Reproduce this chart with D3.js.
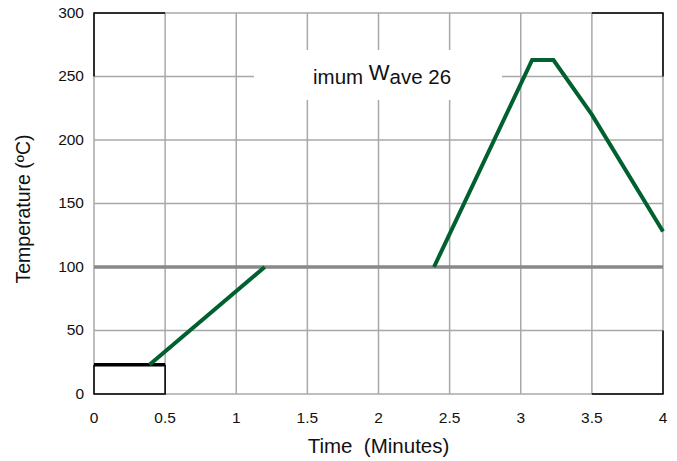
<!DOCTYPE html>
<html>
<head>
<meta charset="utf-8">
<script src="https://cdn.jsdelivr.net/npm/d3@7"></script>
<style>
body { margin: 0; background: #fff; }
svg { font-family: "Liberation Sans", Arial, sans-serif; }
</style>
</head>
<body>
<svg id="chart" width="677" height="461"></svg>
<script>
// profile data (minutes, degC)
var rampTime = [0.39, 1.2];
var rampTemp = [23, 100];
var waveTime = [2.39, 3.08, 3.23, 3.5, 4];
var waveTemp = [100, 263, 263, 220, 128];
var preheatTime = [0, 0.5];
var preheatTemp = [23, 23];
var refLevel = 100;
var xTicks = [0, 0.5, 1, 1.5, 2, 2.5, 3, 3.5, 4];
var yTicks = [0, 50, 100, 150, 200, 250, 300];

var svg = d3.select('#chart');
var margin = { left: 94, right: 14, top: 13, bottom: 67 };
var w = 677 - margin.left - margin.right,
    h = 461 - margin.top - margin.bottom;

var x = d3.scaleLinear().domain([0, 4]).range([0, w]);
var y = d3.scaleLinear().domain([0, 300]).range([h, 0]);

var g = svg.append('g').attr('transform', 'translate(' + margin.left + ',' + margin.top + ')');

// grid
g.selectAll('.vgrid').data(xTicks).enter().append('line')
    .attr('x1', d => x(d)).attr('x2', d => x(d))
    .attr('y1', 0).attr('y2', h)
    .attr('stroke', '#a8a8a8').attr('stroke-width', 1.5);
g.selectAll('.hgrid').data(yTicks).enter().append('line')
    .attr('x1', 0).attr('x2', w)
    .attr('y1', d => y(d)).attr('y2', d => y(d))
    .attr('stroke', '#a8a8a8').attr('stroke-width', 1.5);

// black frame corners
var corners = [
    [[0, 250], [0, 300], [0.5, 300]],
    [[3.5, 300], [4, 300], [4, 250]],
    [[3.5, 0], [4, 0], [4, 50]],
    [[0, 23], [0, 0], [0.5, 0], [0.5, 23]]
];
var line = d3.line().x(d => x(d[0])).y(d => y(d[1]));
g.selectAll('.corner').data(corners).enter().append('path')
    .attr('d', line).attr('fill', 'none')
    .attr('stroke', '#000').attr('stroke-width', 1.5);

// label box
g.append('rect').attr('x', 160).attr('y', 37).attr('width', 248).attr('height', 50)
    .attr('fill', '#fff');

// 100 degree reference
g.append('line')
    .attr('x1', 0).attr('x2', w)
    .attr('y1', y(refLevel)).attr('y2', y(refLevel))
    .attr('stroke', '#888').attr('stroke-width', 3.5);

// preheat bar
g.append('path')
    .datum(d3.zip(preheatTime, preheatTemp))
    .attr('d', line).attr('fill', 'none')
    .attr('stroke', '#000').attr('stroke-width', 3.5);

// profile segments
[d3.zip(rampTime, rampTemp), d3.zip(waveTime, waveTemp)].forEach(function(seg) {
    g.append('path').datum(seg)
        .attr('d', line).attr('fill', 'none')
        .attr('stroke', '#00602f').attr('stroke-width', 4)
        .attr('stroke-linejoin', 'miter');
});

// label text
var lbl = g.append('text').attr('x', 219).attr('y', 71)
    .attr('font-size', 20.5).attr('fill', '#111');
lbl.append('tspan').text('imum ');
lbl.append('tspan').attr('dy', -4).attr('font-size', 22).text('W');
lbl.append('tspan').attr('dy', 4).text('ave 26');

// tick labels
g.selectAll('.xt').data(xTicks).enter().append('text')
    .attr('x', d => x(d)).attr('y', h + 29)
    .attr('text-anchor', 'middle').attr('font-size', 15.5).attr('fill', '#111')
    .text(d => d);
g.selectAll('.yt').data(yTicks).enter().append('text')
    .attr('x', -10).attr('y', d => y(d) + 4.5)
    .attr('text-anchor', 'end').attr('font-size', 15.5).attr('fill', '#111')
    .text(d => d);

// axis titles
svg.append('text').attr('x', margin.left + x(2)).attr('y', 453)
    .attr('text-anchor', 'middle').attr('font-size', 20.5).attr('fill', '#111')
    .style('white-space', 'pre')
    .text('Time  (Minutes)');
svg.append('text')
    .attr('transform', 'translate(30,209) rotate(-90)')
    .attr('text-anchor', 'middle').attr('font-size', 19.5).attr('fill', '#111')
    .text('Temperature (ºC)');
</script>
</body>
</html>
